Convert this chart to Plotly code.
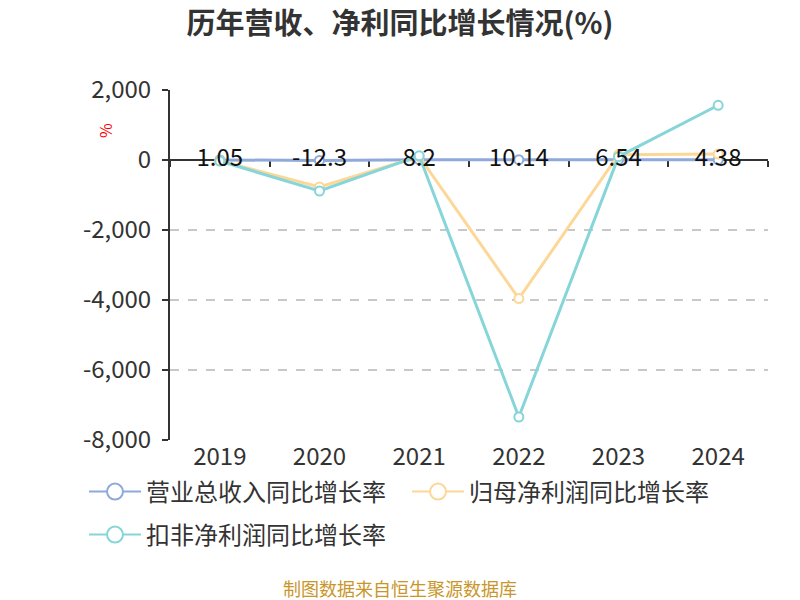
import plotly.graph_objects as go

years = ['2019', '2020', '2021', '2022', '2023', '2024']
revenue_growth = [1.05, -12.3, 8.2, 10.14, 6.54, 4.38]
net_profit_growth = [-20, -770, 100, -3960, 150, 170]
deducted_profit_growth = [-30, -886, 120, -7343, 95, 1563]
y_ticks = [-8000, -6000, -4000, -2000, 0, 2000]
y_tick_text = ['-8,000', '-6,000', '-4,000', '-2,000', '0', '2,000']

font_family = 'Noto Sans CJK SC'
series = [
    ('营业总收入同比增长率', revenue_growth, '#8fa9db', 'legend'),
    ('归母净利润同比增长率', net_profit_growth, '#fdd797', 'legend'),
    ('扣非净利润同比增长率', deducted_profit_growth, '#86d5d8', 'legend2'),
]

fig = go.Figure()
for name, vals, color, lg in series:
    fig.add_trace(go.Scatter(
        x=years, y=vals, name=name, mode='lines+markers', showlegend=False,
        line=dict(color=color, width=3),
        marker=dict(symbol='circle', size=9, color='white', line=dict(color=color, width=2)),
    ))
    # legend entry only (bigger symbol like the original)
    fig.add_trace(go.Scatter(
        x=[None], y=[None], name=name, mode='lines+markers', legend=lg,
        line=dict(color=color, width=2),
        marker=dict(symbol='circle', size=16, color='white', line=dict(color=color, width=2)),
    ))

# data labels for revenue growth
fig.add_trace(go.Scatter(
    x=years, y=revenue_growth, mode='text', text=[str(v) for v in revenue_growth],
    textposition='middle center', textfont=dict(size=24, color='#111', family=font_family),
    showlegend=False, hoverinfo='skip',
))

# helper trace so the zero-line axis with boundary ticks is drawn
fig.add_trace(go.Scatter(x=years, y=[None] * len(years), xaxis='x2', showlegend=False, hoverinfo='skip'))

legend_style = dict(orientation='h', xanchor='left', yanchor='middle',
                    font=dict(size=24, color='#333'), itemwidth=52,
                    entrywidth=256, bgcolor='rgba(0,0,0,0)')

fig.update_layout(
    width=800, height=600,
    margin=dict(l=170, r=32, t=90, b=160),
    plot_bgcolor='white', paper_bgcolor='white',
    font=dict(family=font_family, color='#333'),
    title=dict(text='<b>历年营收、净利同比增长情况(%)</b>', x=0.5, xanchor='center', y=0.96, yanchor='middle',
               font=dict(size=29, color='#333', family=font_family)),
    xaxis=dict(type='category', showline=False, showgrid=False, ticks='', zeroline=False,
               tickfont=dict(size=24, color='#333'), range=[-0.5, 5.5]),
    xaxis2=dict(type='category', overlaying='x', anchor='free', position=0.8, side='bottom',
                showline=True, linecolor='#333', linewidth=2, ticks='outside', tickson='boundaries',
                ticklen=6, tickcolor='#333', tickwidth=2, showticklabels=False, showgrid=False,
                layer='below traces', range=[-0.5, 5.5]),
    yaxis=dict(range=[-8000, 2000], tickvals=y_ticks, ticktext=y_tick_text,
               showline=True, linecolor='#333', linewidth=2, ticks='outside', ticklen=6, tickcolor='#333',
               tickwidth=2, ticklabelstandoff=6, showgrid=True, gridcolor='#c8c8c8', griddash='dash',
               gridwidth=1.5, zeroline=False, tickfont=dict(size=24, color='#333')),
    legend=dict(x=(84 - 170) / 598, y=(440 - 492) / 350, **legend_style),
    legend2=dict(x=(84 - 170) / 598, y=(440 - 535) / 350, **legend_style),
    annotations=[
        dict(text='%', xref='paper', yref='paper', x=(105 - 170) / 598, y=(440 - 131) / 350, showarrow=False,
             xanchor='center', yanchor='middle', textangle=-90, font=dict(size=16, color='red')),
        dict(text='制图数据来自恒生聚源数据库', xref='paper', yref='paper', x=(400 - 170) / 598,
             y=(440 - 588) / 350, showarrow=False, xanchor='center', yanchor='middle',
             font=dict(size=18, color='#c9962a')),
    ],
)

fig.write_html('out.html', config={'displayModeBar': False}, post_script="document.body.style.margin='0';")
